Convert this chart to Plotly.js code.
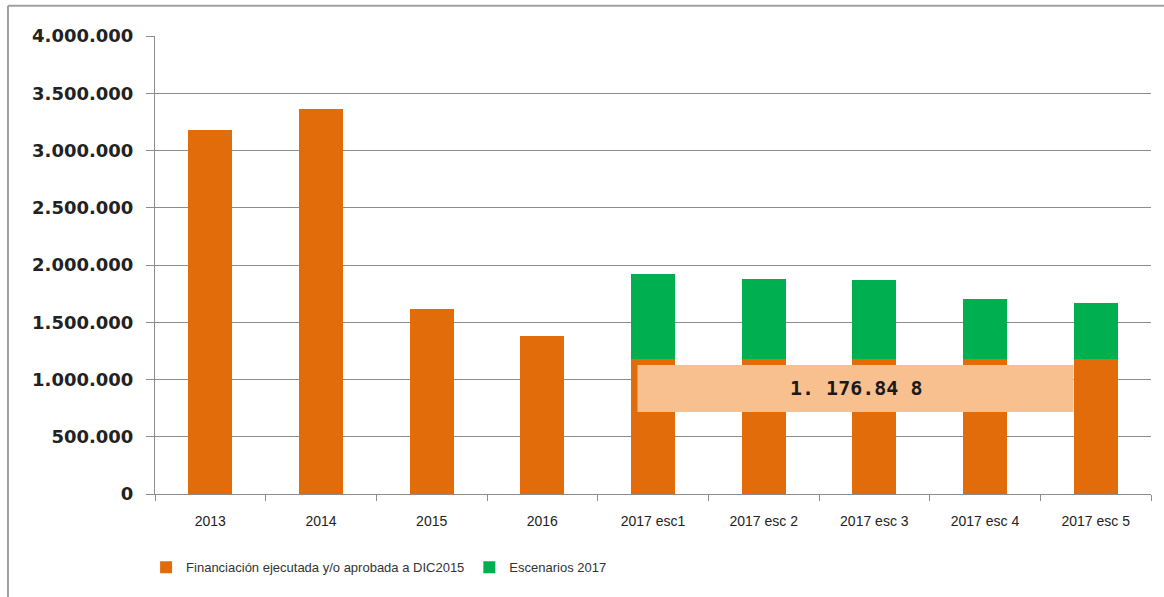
<!DOCTYPE html>
<html>
<head>
<meta charset="utf-8">
<script src="https://cdn.plot.ly/plotly-3.0.1.min.js"></script>
<style>
  html, body { margin: 0; padding: 0; background: #fff; }
  #chart { width: 1164px; height: 597px; }
</style>
</head>
<body>
<div id="chart"></div>
<script>
const categories = ['2013', '2014', '2015', '2016', '2017 esc1', '2017 esc 2', '2017 esc 3', '2017 esc 4', '2017 esc 5'];
const financiacion = [3180000, 3365000, 1615000, 1380000, 1176848, 1176848, 1176848, 1176848, 1176848];
const escenarios = [null, null, null, null, 744000, 705000, 691000, 526000, 488000];
const seriesNames = ['Financiación ejecutada y/o aprobada a DIC2015', 'Escenarios 2017'];
const yTicks = [0, 500000, 1000000, 1500000, 2000000, 2500000, 3000000, 3500000, 4000000];
const boxLabel = '1. 176.84 8';
const boxRange = [716000, 1127000];

const narrow = '"Liberation Sans Narrow", "Liberation Sans", Arial, sans-serif';

const traces = [
  {
    type: 'bar', x: categories, y: financiacion, name: seriesNames[0],
    marker: { color: '#E36C0A' }, width: 0.4
  },
  {
    type: 'bar', x: categories, y: escenarios, name: seriesNames[1],
    marker: { color: '#00B050' }, width: 0.4
  }
];

const layout = {
  width: 1164, height: 597,
  margin: { l: 155, r: 13, t: 36, b: 103 },
  paper_bgcolor: '#ffffff', plot_bgcolor: '#ffffff',
  barmode: 'stack',
  separators: ',.',
  showlegend: true,
  legend: {
    orientation: 'h', traceorder: 'normal',
    x: 0.225, xanchor: 'center', y: -0.16, yanchor: 'middle',
    font: { family: narrow, size: 13, color: '#333' },
    itemwidth: 30, tracegroupgap: 0
  },
  xaxis: {
    type: 'category', range: [-0.5, 8.5],
    showline: true, linecolor: '#8c8c8c', linewidth: 1,
    ticks: 'outside', tickson: 'boundaries', ticklen: 6, tickcolor: '#8c8c8c',
    tickfont: { family: narrow, size: 14, color: '#222' },
    ticklabelstandoff: 14,
    showgrid: false, zeroline: false, fixedrange: true
  },
  yaxis: {
    range: [0, 4000000], tickvals: yTicks, tickformat: ',d',
    showline: true, linecolor: '#8c8c8c', linewidth: 1,
    ticks: 'outside', ticklen: 8, tickcolor: '#8c8c8c',
    showgrid: true, gridcolor: '#8c8c8c', gridwidth: 1,
    zeroline: false,
    tickfont: { family: 'DejaVu Sans, sans-serif', size: 18, color: '#222', weight: 'bold' },
    ticklabelstandoff: 9, fixedrange: true
  },
  shapes: [
    {
      type: 'rect', xref: 'x', yref: 'y', x0: 3.86, x1: 7.80, y0: boxRange[0], y1: boxRange[1],
      fillcolor: '#F9C08F', line: { width: 0 }, layer: 'above'
    },
    { type: 'line', xref: 'paper', yref: 'paper', x0: -0.1476, x1: -0.1476, y0: -0.225, y1: 1.066, line: { color: '#a0a0a0', width: 2 } },
    { type: 'line', xref: 'paper', yref: 'paper', x0: -0.1476, x1: 1.02, y0: 1.066, y1: 1.066, line: { color: '#a0a0a0', width: 2 } }
  ],
  annotations: [
    {
      xref: 'x', yref: 'y', x: 5.83, y: (boxRange[0] + boxRange[1]) / 2,
      text: boxLabel, showarrow: false,
      font: { family: '"DejaVu Sans Mono", monospace', size: 20, color: '#1a1a1a', weight: 'bold' }
    }
  ]
};

Plotly.newPlot('chart', traces, layout, { displayModeBar: false, staticPlot: true });
</script>
</body>
</html>
